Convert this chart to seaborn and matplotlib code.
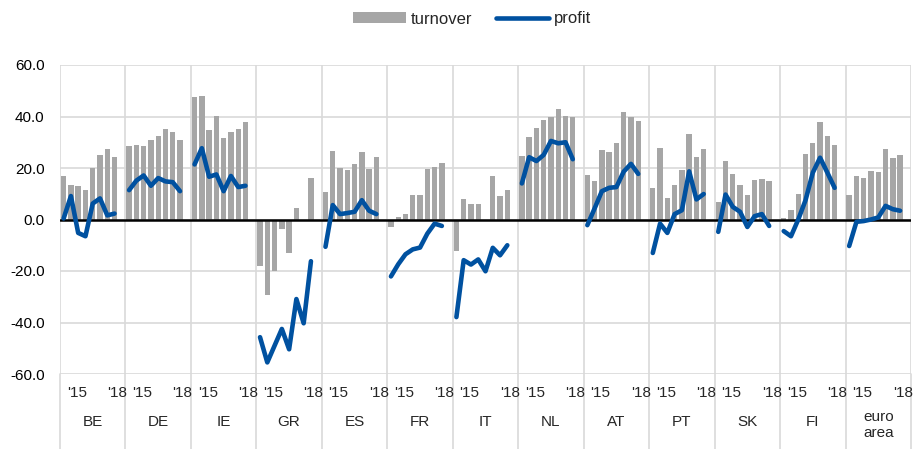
import numpy as np
import pandas as pd
import matplotlib
matplotlib.use("Agg")
import matplotlib.pyplot as plt
import matplotlib.transforms as mtransforms
from matplotlib.patches import Patch
from matplotlib.lines import Line2D
import seaborn as sns

# ---------------- data ----------------
countries = ["BE", "DE", "IE", "GR", "ES", "FR", "IT", "NL", "AT", "PT", "SK", "FI", "euro\narea"]
period_labels = ["'15", "'18"]

turnover_BE = [17.0, 13.5, 13.0, 11.6, 19.9, 25.1, 27.3, 24.3]
turnover_DE = [28.6, 28.8, 28.6, 30.9, 32.3, 35.2, 33.9, 30.9]
turnover_IE = [47.4, 47.9, 34.8, 40.1, 31.6, 34.0, 35.2, 37.8]
turnover_GR = [-18.1, -29.2, -20.1, -3.6, -12.9, 4.4, 0.0, 16.1]
turnover_ES = [10.6, 26.6, 20.1, 19.1, 21.4, 26.2, 19.6, 24.4]
turnover_FR = [-2.9, 1.0, 2.1, 9.7, 9.7, 19.5, 20.5, 22.1]
turnover_IT = [-12.2, 7.8, 6.1, 6.1, 0.0, 16.9, 9.1, 11.6]
turnover_NL = [24.7, 31.9, 35.5, 38.8, 39.7, 43.1, 40.3, 40.0]
turnover_AT = [17.4, 14.9, 26.9, 26.1, 29.6, 41.9, 39.7, 38.4]
turnover_PT = [12.3, 27.7, 8.3, 13.5, 19.1, 33.1, 24.4, 27.4]
turnover_SK = [6.9, 22.7, 17.5, 13.4, 9.4, 15.3, 15.7, 15.1]
turnover_FI = [0.4, 3.8, 9.9, 25.3, 29.9, 37.8, 32.6, 29.0]
turnover_EA = [9.5, 17.0, 16.0, 18.8, 18.6, 27.3, 23.8, 24.9]

profit_BE = [0.4, 9.1, -5.2, -6.5, 6.2, 8.2, 1.6, 2.3]
profit_DE = [11.4, 15.1, 17.1, 13.1, 16.1, 14.8, 14.5, 11.0]
profit_IE = [21.4, 27.7, 16.6, 17.5, 11.0, 16.9, 12.6, 13.1]
profit_GR = [-45.7, -55.5, -49.0, -42.5, -50.4, -30.9, -40.3, -16.2]
profit_ES = [-10.6, 5.6, 2.1, 2.5, 3.0, 7.5, 3.4, 2.1]
profit_FR = [-22.1, -17.4, -13.5, -11.6, -10.9, -5.5, -1.6, -2.5]
profit_IT = [-37.9, -15.8, -17.5, -15.5, -20.1, -11.0, -13.9, -10.0]
profit_NL = [14.0, 24.2, 22.7, 25.1, 30.5, 29.6, 30.0, 23.4]
profit_AT = [-2.2, 4.3, 11.0, 12.3, 12.6, 18.6, 21.6, 17.7]
profit_PT = [-13.0, -1.6, -5.2, 2.1, 3.6, 18.7, 7.8, 9.9]
profit_SK = [-4.8, 9.7, 4.9, 3.0, -2.9, 1.3, 2.1, -2.5]
profit_FI = [-4.5, -6.5, 0.0, 7.5, 18.2, 24.0, 18.2, 12.3]
profit_EA = [-10.3, -0.9, -0.6, 0.0, 0.8, 5.3, 4.0, 3.4]

turnover_all = [turnover_BE, turnover_DE, turnover_IE, turnover_GR, turnover_ES, turnover_FR,
                turnover_IT, turnover_NL, turnover_AT, turnover_PT, turnover_SK, turnover_FI, turnover_EA]
profit_all = [profit_BE, profit_DE, profit_IE, profit_GR, profit_ES, profit_FR,
              profit_IT, profit_NL, profit_AT, profit_PT, profit_SK, profit_FI, profit_EA]

# ---------------- build table ----------------
slots = 9  # 8 periods + 1 gap per country
rows = []
for g, (c, tv, pf) in enumerate(zip(countries, turnover_all, profit_all)):
    for q, (t, p) in enumerate(zip(tv, pf)):
        rows.append({"country": c, "pos": g * slots + q, "turnover": t, "profit": p})
df = pd.DataFrame(rows)

# ---------------- plot ----------------
sns.set_style("white")
plt.rcParams["font.family"] = ["Liberation Sans", "DejaVu Sans"]

W, H = 920, 449
fig = plt.figure(figsize=(W / 100, H / 100), dpi=100)
ax_left, ax_right, ax_top, ax_bot = 60, 911, 65, 374
ax = fig.add_axes([ax_left / W, 1 - ax_bot / H, (ax_right - ax_left) / W, (ax_bot - ax_top) / H])

bar_color = "#A6A6A6"
line_color = "#0051A0"
grid_color = "#D9D9D9"

sns.barplot(data=df, x="pos", y="turnover", native_scale=True, color=bar_color,
            saturation=1, width=0.74, errorbar=None, ax=ax, zorder=2, linewidth=0)
ax.axhline(0, color="black", lw=1.8, zorder=3)
sns.lineplot(data=df, x="pos", y="profit", units="country", estimator=None, sort=False,
             color=line_color, lw=3.3, ax=ax, zorder=4, legend=False)

n = len(countries)
ax.set_xlim(-0.5, n * slots - 0.5)
ax.set_ylim(-60, 60)
ax.set_yticks(np.arange(-60, 61, 20))
ax.set_yticklabels([f"{v:.1f}" for v in np.arange(-60, 61, 20)], fontsize=11, color="#000000")
ax.set_xticks([g * slots - 0.5 for g in range(n + 1)])
ax.set_xticklabels([])
ax.tick_params(axis="both", length=0)
ax.tick_params(axis="y", pad=11)
ax.grid(True, color=grid_color, lw=1.2, zorder=0)
ax.set_axisbelow(True)
for s in ax.spines.values():
    s.set_visible(False)
ax.set_xlabel("")
ax.set_ylabel("")

# separators extending under the axis, and category labels
trans = mtransforms.blended_transform_factory(ax.transData, ax.transAxes)
ax_h = ax_bot - ax_top
ext = -(H - ax_bot) / ax_h
for g in range(n + 1):
    x = g * slots - 0.5
    ax.plot([x, x], [0, ext], transform=trans, color=grid_color, lw=1.2, clip_on=False, zorder=0)

y_period = -(393 - ax_bot) / ax_h
y_country = -(422 - ax_bot) / ax_h
for g, c in enumerate(countries):
    base = g * slots
    ax.text(base + 1.8, y_period, period_labels[0], transform=trans, ha="center", va="center", fontsize=11)
    ax.text(base + 7.35, y_period, period_labels[1], transform=trans, ha="center", va="center", fontsize=11)
    yc = y_country if "\n" not in c else -(425 - ax_bot) / ax_h
    ax.text(base + 4.0, yc, c, transform=trans, ha="center", va="center", fontsize=11,
            linespacing=1.15)

# legend
handles = [Patch(facecolor=bar_color, edgecolor="none", label="turnover"),
           Line2D([0], [0], color=line_color, lw=3.3, label="profit")]
fig.legend(handles=handles, loc="center", bbox_to_anchor=(0.513, 1 - 19 / H), ncol=2,
           frameon=False, fontsize=12, handlelength=3.2, handletextpad=0.3,
           columnspacing=1.4, handleheight=0.6)

fig.savefig("out.png", dpi=100)
